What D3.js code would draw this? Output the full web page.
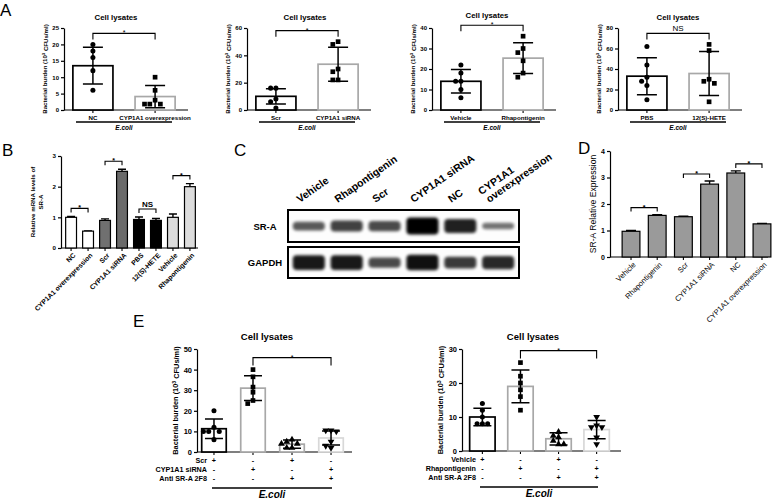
<!doctype html>
<html>
<head>
<style>
    body { margin: 0; background: #fff; }
    svg { font-family: "Liberation Sans", Arial, sans-serif; }
    .axis path, .axis line { stroke: #000; stroke-width: 1.2; }
    .axis text { font-weight: bold; fill: #000; }
</style>
<script src="https://d3js.org/d3.v7.min.js"></script>
</head>
<body>
<svg width="778" height="501"></svg>
<script>
// ---------- data ----------
// A: cell lysates, bacterial burden (10^3 CFUs/ml)
var a1Groups = ["NC", "CYP1A1 overexpression"];
var a1Mean = [13.5, 4.1];
var a1Sd = [5.6, 3.4];
var a1Points = [[20, 18, 16, 12, 6], [10, 6, 3, 1.8, 1.8, 1.8]];
var a1Ticks = [0, 5, 10, 15, 20, 25];

var a2Groups = ["Scr", "CYP1A1 siRNA"];
var a2Mean = [10, 33.5];
var a2Sd = [5.6, 12.5];
var a2Points = [[16, 16, 8, 6, 1.5], [50, 48, 30, 28, 22, 22]];
var a2Ticks = [0, 20, 40, 60];

var a3Groups = ["Vehicle", "Rhapontigenin"];
var a3Mean = [14, 25.3];
var a3Sd = [5.7, 7.5];
var a3Points = [[22, 18, 14, 14, 10, 6], [36, 30, 28, 24, 18, 16]];
var a3Ticks = [0, 10, 20, 30, 40];

var a4Groups = ["PBS", "12(S)-HETE"];
var a4Mean = [33, 35.6];
var a4Sd = [18, 21.5];
var a4Points = [[62, 44, 32, 28, 24, 10], [64, 58, 30, 28, 26, 8]];
var a4Ticks = [0, 20, 40, 60, 80];

// B: relative mRNA levels of SR-A
var bGroups = ["NC", "CYP1A1 overexpression", "Scr", "CYP1A1 siRNA", "PBS", "12(S)-HETE", "Vehicle", "Rhapontigenin"];
var bMean = [1.0, 0.55, 0.9, 2.5, 0.93, 0.9, 1.0, 2.0];
var bErr = [0.03, 0.01, 0.05, 0.07, 0.08, 0.06, 0.11, 0.1];
var bTicks = [0, 1, 2, 3];
var bSig = [[0, 1, "*"], [2, 3, "*"], [4, 5, "NS"], [6, 7, "*"]];

// C: western blot, relative band strength
var cLanes = ["Vehicle", "Rhapontigenin", "Scr", "CYP1A1 siRNA", "NC", "CYP1A1 overexpression"];
var cSrA = [0.45, 0.6, 0.55, 1.0, 0.8, 0.3];
var cGapdh = [0.85, 0.85, 0.55, 0.9, 0.65, 0.75];

// D: SR-A relative expression
var dGroups = ["Vehicle", "Rhapontigenin", "Scr", "CYP1A1 siRNA", "NC", "CYP1A1 overexpression"];
var dMean = [0.97, 1.57, 1.52, 2.75, 3.17, 1.25];
var dErr = [0.03, 0.03, 0.02, 0.12, 0.08, 0.02];
var dTicks = [0, 1, 2, 3, 4];
var dSig = [[0, 1, "*"], [2, 3, "*"], [4, 5, "*"]];

// E: blocking with anti SR-A 2F8
var e1Rows = ["Scr", "CYP1A1 siRNA", "Anti SR-A 2F8"];
var e1Signs = [["+", "-", "+", "-"], ["-", "+", "-", "+"], ["-", "-", "+", "+"]];
var e1Mean = [11.3, 31, 3.8, 6.8];
var e1Sd = [4.7, 6, 2, 3.4];
var e1Points = [[20, 12, 10, 10, 10, 6], [40, 36.5, 31.5, 29, 25, 23.5], [6, 5, 4, 4, 2, 2], [10.5, 10.5, 10, 5, 3, 2]];
var e1Ticks = [0, 10, 20, 30, 40, 50];

var e2Rows = ["Vehicle", "Rhapontigenin", "Anti SR-A 2F8"];
var e2Signs = [["+", "-", "+", "-"], ["-", "+", "-", "+"], ["-", "-", "+", "+"]];
var e2Mean = [10, 19, 3.6, 6.3];
var e2Sd = [2.6, 4.8, 1.8, 2.7];
var e2Points = [[14, 12, 10, 8, 8, 8], [26, 22, 20, 18, 16, 12], [5.6, 4.5, 4, 3, 2, 2], [10, 7.5, 7, 7, 4, 2]];
var e2Ticks = [0, 10, 20, 30];

var svg = d3.select("svg");

function panelLetter(t, x, y) {
    svg.append("text").attr("x", x).attr("y", y).attr("font-size", "17px").text(t);
}

// place dots so that they do not overlap (simple beeswarm)
function swarm(vals, cx, y, r) {
    var placed = [];
    return vals.map(function(v) {
        var py = y(v), px = cx, offs = [0, -1, 1, -2, 2, -3, 3];
        for (var k = 0; k < offs.length; k++) {
            var tx = cx + offs[k] * r * 2.2;
            if (placed.every(function(p) { return Math.hypot(p[0] - tx, p[1] - py) >= r * 2; })) { px = tx; break; }
        }
        placed.push([px, py]);
        return [px, py];
    });
}

function bracket(g, x1, x2, yb, leg, label, fs, fw) {
    g.append("path")
     .attr("d", "M" + x1 + "," + (yb + leg) + "V" + yb + "H" + x2 + "V" + (yb + leg))
     .attr("fill", "none").attr("stroke", "#000").attr("stroke-width", 1.1);
    g.append("text")
     .attr("x", (x1 + x2) / 2).attr("y", label == "*" ? yb + 2 : yb - 2.5)
     .attr("text-anchor", "middle")
     .attr("font-size", label == "*" ? "7px" : fs)
     .attr("font-weight", fw || "normal")
     .text(label);
}

var shapes = [d3.symbolCircle, d3.symbolSquare, d3.symbolTriangle, d3.symbolTriangle];
var intFmt = d3.format("d");

// dot + bar chart with SD (panels A and E)
function dotBar(o) {
    var g = svg.append("g");
    var n = o.mean.length;
    var x = d3.scaleBand().domain(d3.range(n)).range([o.x0, o.x0 + o.w]).paddingInner(o.pi).paddingOuter(o.po);
    var y = d3.scaleLinear().domain([0, o.max]).range([o.y0, o.y1]);
    var bw = x.bandwidth();
    var cx = function(i) { return x(i) + bw / 2; };

    var ax = g.append("g").attr("class", "axis")
     .attr("transform", "translate(" + o.x0 + ",0)")
     .call(d3.axisLeft(y).tickValues(o.ticks).tickFormat(intFmt).tickSize(3).tickSizeOuter(0).tickPadding(2));
    ax.selectAll("text").attr("font-size", o.tickFs);

    g.append("line")
     .attr("x1", o.x0).attr("x2", o.x0 + o.w + 4).attr("y1", o.y0).attr("y2", o.y0)
     .attr("stroke", "#000").attr("stroke-width", 1.2);
    g.selectAll(".xt").data(d3.range(n)).join("line")
     .attr("x1", cx).attr("x2", cx).attr("y1", o.y0).attr("y2", o.y0 + 3)
     .attr("stroke", "#000").attr("stroke-width", 1.1);

    g.selectAll(".bar").data(o.mean).join("rect")
     .attr("x", function(d, i) { return x(i) + 0.8; })
     .attr("y", function(d) { return y(d); })
     .attr("width", bw - 1.6)
     .attr("height", function(d) { return o.y0 - y(d); })
     .attr("fill", "#fff")
     .attr("stroke", function(d, i) { return o.strokes[i]; })
     .attr("stroke-width", 1.7);

    o.points.forEach(function(pts, i) {
        var pos = swarm(pts, cx(i), y, 2.4);
        g.selectAll(".p" + i).data(pos).join("path")
         .attr("d", d3.symbol().type(shapes[i]).size(i == 1 ? 22 : 20))
         .attr("transform", function(d) {
             return "translate(" + d[0] + "," + d[1] + ")" + (i == 3 ? " rotate(180)" : "");
         })
         .attr("fill", "#000");
    });

    o.mean.forEach(function(m, i) {
        var c = cx(i), hi = y(m + o.sd[i]), lo = y(Math.max(0, m - o.sd[i]));
        g.append("path")
         .attr("d", "M" + c + "," + hi + "V" + lo + "M" + (c - o.cap) + "," + hi + "H" + (c + o.cap) +
                    "M" + (c - o.cap) + "," + lo + "H" + (c + o.cap))
         .attr("fill", "none").attr("stroke", "#000").attr("stroke-width", 1.5);
    });

    var top = d3.max(o.points[o.sig[0]].concat(o.points[o.sig[1]]));
    bracket(g, cx(o.sig[0]), cx(o.sig[1]), y(top) - o.sigGap, o.leg, o.sig[2], o.sigFs);

    g.append("text")
     .attr("x", o.titleX).attr("y", o.titleY)
     .attr("text-anchor", "middle").attr("font-weight", "bold").attr("font-size", o.titleFs)
     .text("Cell lysates");

    var yl = g.append("text")
     .attr("transform", "translate(" + (o.x0 - o.ylOff) + "," + ((o.y0 + o.y1) / 2) + ") rotate(-90)")
     .attr("text-anchor", "middle").attr("font-weight", "bold").attr("font-size", o.ylFs);
    yl.append("tspan").text("Bacterial burden (10");
    yl.append("tspan").attr("dy", "-0.4em").attr("font-size", "0.7em").text("3");
    yl.append("tspan").attr("dy", "0.4em").text(" CFUs/ml)");

    if (o.groups) {
        g.selectAll(".xl").data(o.groups).join("text")
         .attr("x", function(d, i) { return cx(i); })
         .attr("y", o.y0 + 9.5)
         .attr("text-anchor", "middle").attr("font-weight", "bold").attr("font-size", o.xFs)
         .text(function(d) { return d; });
    } else {
        o.rows.forEach(function(r, j) {
            var ry = o.y0 + o.rowY[j];
            g.append("text").attr("x", o.rowX).attr("y", ry)
             .attr("text-anchor", "end").attr("font-weight", "bold").attr("font-size", o.xFs).text(r);
            g.selectAll(".s" + j).data(o.signs[j]).join("text")
             .attr("x", function(d, i) { return cx(i); }).attr("y", ry)
             .attr("text-anchor", "middle").attr("font-weight", "bold").attr("font-size", o.xFs)
             .text(function(d) { return d; });
        });
    }

    g.append("line")
     .attr("x1", o.x0 + o.ul[0]).attr("x2", o.x0 + o.ul[1]).attr("y1", o.ulY).attr("y2", o.ulY)
     .attr("stroke", "#000").attr("stroke-width", 1.6);
    g.append("text")
     .attr("x", o.x0 + (o.ul[0] + o.ul[1]) / 2).attr("y", o.ulY + o.ecY)
     .attr("text-anchor", "middle").attr("font-weight", "bold").attr("font-style", "italic")
     .attr("font-size", o.ecFs).text("E.coli");
}

// column chart with upper error bar (panels B and D)
function columns(o) {
    var g = svg.append("g");
    var n = o.mean.length;
    var x = d3.scaleBand().domain(d3.range(n)).range(o.range).paddingInner(o.pi).paddingOuter(o.po);
    var y = d3.scaleLinear().domain([0, o.max]).range([o.y0, o.y1]);
    var bw = x.bandwidth();
    var cx = function(i) { return x(i) + bw / 2; };

    var ax = g.append("g").attr("class", "axis")
     .attr("transform", "translate(" + o.x0 + ",0)")
     .call(d3.axisLeft(y).tickValues(o.ticks).tickFormat(intFmt).tickSize(3).tickSizeOuter(0).tickPadding(2));
    ax.selectAll("text").attr("font-size", o.tickFs);

    g.append("line")
     .attr("x1", o.x0).attr("x2", o.xEnd).attr("y1", o.y0).attr("y2", o.y0)
     .attr("stroke", "#000").attr("stroke-width", 1.2);
    g.selectAll(".xt").data(d3.range(n)).join("line")
     .attr("x1", cx).attr("x2", cx).attr("y1", o.y0).attr("y2", o.y0 + 3)
     .attr("stroke", "#000").attr("stroke-width", 1.1);

    o.mean.forEach(function(m, i) {
        var c = cx(i), hi = y(m + o.err[i]);
        g.append("path")
         .attr("d", "M" + c + "," + y(m) + "V" + hi + "M" + (c - o.cap) + "," + hi + "H" + (c + o.cap))
         .attr("fill", "none").attr("stroke", "#000").attr("stroke-width", 1.4);
    });

    g.selectAll(".bar").data(o.mean).join("rect")
     .attr("x", function(d, i) { return x(i) + 0.6; })
     .attr("y", function(d) { return y(d); })
     .attr("width", bw - 1.2)
     .attr("height", function(d) { return o.y0 - y(d); })
     .attr("fill", function(d, i) { return o.fill(i); })
     .attr("stroke", "#000").attr("stroke-width", 1.2);

    o.sig.forEach(function(s) {
        var top = Math.max(o.mean[s[0]] + o.err[s[0]], o.mean[s[1]] + o.err[s[1]]);
        bracket(g, cx(s[0]), cx(s[1]), y(top) - o.sigGap, 4, s[2], "8px", "bold");
    });

    g.selectAll(".xl").data(o.groups).join("text")
     .attr("transform", function(d, i) { return "translate(" + (cx(i) + 2) + "," + (o.y0 + 5) + ") rotate(-45)"; })
     .attr("text-anchor", "end").attr("font-weight", o.xWeight).attr("font-size", o.xFs)
     .attr("dy", "0.6em")
     .text(function(d) { return d; });
    return g;
}

// ---------- panel A ----------
panelLetter("A", 0, 16);
var aCommon = { w: 120, pi: 0.33, po: 0.13, y0: 110, y1: 28, strokes: ["#000", "#a8a8a8"], cap: 10,
    tickFs: "6px", titleY: 20, titleFs: "7.8px", ylOff: 17, ylFs: "6.1px", xFs: "6.2px",
    ul: [12, 108], ulY: 122, ecY: 7.5, ecFs: "6.5px", sigGap: 11, leg: 6, sigFs: "8px" };
[
    { x0: 64, max: 25, ticks: a1Ticks, groups: a1Groups, mean: a1Mean, sd: a1Sd, points: a1Points, sig: [0, 1, "*"], titleX: 116 },
    { x0: 247, max: 60, ticks: a2Ticks, groups: a2Groups, mean: a2Mean, sd: a2Sd, points: a2Points, sig: [0, 1, "*"], titleX: 305 },
    { x0: 432, max: 40, ticks: a3Ticks, groups: a3Groups, mean: a3Mean, sd: a3Sd, points: a3Points, sig: [0, 1, "*"], titleX: 487, titleY: 17.5 },
    { x0: 618, max: 80, ticks: a4Ticks, groups: a4Groups, mean: a4Mean, sd: a4Sd, points: a4Points, sig: [0, 1, "NS"], titleX: 678 }
].forEach(function(c) { dotBar(Object.assign({}, aCommon, c)); });

// ---------- panel B ----------
panelLetter("B", 2, 156);
var bFill = ["#fff", "#fff", "#707070", "#6a6a6a", "#000", "#000", "#dcdcdc", "#dcdcdc"];
columns({ x0: 61, xEnd: 198, range: [62, 199], pi: 0.29, po: 0.18, y0: 248, y1: 156, max: 3,
    ticks: bTicks, mean: bMean, err: bErr, groups: bGroups, sig: bSig, cap: 4,
    fill: function(i) { return bFill[i]; }, tickFs: "6.2px", xFs: "6.8px", xWeight: "bold", sigGap: 8 });
var bl = svg.append("text")
    .attr("transform", "translate(36,202) rotate(-90)")
    .attr("text-anchor", "middle").attr("font-weight", "bold").attr("font-size", "6.2px");
bl.append("tspan").attr("x", 0).attr("dy", "-0.2em").text("Relative mRNA levels of");
bl.append("tspan").attr("x", 0).attr("dy", "1.25em").text("SR-A");

// ---------- panel C ----------
panelLetter("C", 234, 156);
var defs = svg.append("defs");
defs.append("filter").attr("id", "blur").attr("x", "-30%").attr("y", "-80%").attr("width", "160%").attr("height", "260%")
    .append("feGaussianBlur").attr("stdDeviation", 1.6);
var lane = d3.scaleBand().domain(d3.range(cLanes.length)).range([288, 519]).padding(0.1);
var bandH = d3.scaleLinear().domain([0, 1]).range([2, 17]);
var bandOp = d3.scaleLinear().domain([0, 1]).range([0.35, 1]);
var blots = [{ name: "SR-A", vals: cSrA, y0: 210, y1: 242 }, { name: "GAPDH", vals: cGapdh, y0: 247, y1: 278 }];
blots.forEach(function(b) {
    var mid = (b.y0 + b.y1) / 2;
    var gb = svg.append("g");
    gb.append("rect").attr("x", 288).attr("y", b.y0).attr("width", 231).attr("height", b.y1 - b.y0)
      .attr("fill", "#fdfdfd").attr("stroke", "#000").attr("stroke-width", 2);
    gb.selectAll(".band").data(b.vals).join("rect")
      .attr("x", function(d, i) { return lane(i) + 1; })
      .attr("y", function(d) { return mid - bandH(d) / 2; })
      .attr("width", lane.bandwidth() - 2)
      .attr("height", function(d) { return bandH(d); })
      .attr("rx", 4)
      .attr("fill", "#000")
      .attr("opacity", function(d) { return bandOp(d); })
      .attr("filter", "url(#blur)");
    svg.append("text").attr("x", 265).attr("y", mid + 3.5).attr("text-anchor", "middle")
      .attr("font-weight", "bold").attr("font-size", "9.5px").text(b.name);
});
cLanes.forEach(function(name, i) {
    var lx = lane(i) + lane.bandwidth() / 2 - 9;
    var t = svg.append("text")
      .attr("transform", "translate(" + lx + ",203) rotate(-35)")
      .attr("font-weight", "bold").attr("font-size", "10.5px");
    var words = name == "CYP1A1 overexpression" ? ["CYP1A1", "overexpression"] : [name];
    if (words.length == 2) {
        t.append("tspan").attr("x", -2).attr("y", -11).text(words[0]);
        t.append("tspan").attr("x", 0).attr("y", 0).text(words[1]);
    } else {
        t.text(name);
    }
});

// ---------- panel D ----------
panelLetter("D", 578, 154);
columns({ x0: 610, xEnd: 768, range: [610, 783], pi: 0.275, po: 0.44, y0: 257, y1: 151, max: 4,
    ticks: dTicks, mean: dMean, err: dErr, groups: dGroups, sig: dSig, cap: 5,
    fill: function() { return "#9a9a9a"; }, tickFs: "7px", xFs: "7.5px", xWeight: "normal", sigGap: 7 });
svg.append("text")
    .attr("transform", "translate(596,204) rotate(-90)")
    .attr("text-anchor", "middle").attr("font-size", "8.6px")
    .text("SR-A Relative Expression");

// ---------- panel E ----------
panelLetter("E", 133, 327);
var eCommon = { strokes: ["#000", "#a8a8a8", "#a8a8a8", "#d8d8d8"], cap: 9, tickFs: "7.5px", titleY: 340,
    titleFs: "9.5px", ylOff: 19, ylFs: "7.4px", xFs: "7.2px", rowY: [11, 20, 29], ecY: 10, ecFs: "10px",
    sigGap: 12, leg: 8, sigFs: "8px", sig: [1, 3, "*"] };
dotBar(Object.assign({}, eCommon, { x0: 197, w: 151, pi: 0.33, po: 0.1, y0: 452, y1: 349, max: 50,
    ticks: e1Ticks, rows: e1Rows, signs: e1Signs, mean: e1Mean, sd: e1Sd, points: e1Points,
    rowX: 207, titleX: 267, ul: [15, 135], ulY: 488 }));
dotBar(Object.assign({}, eCommon, { x0: 462, w: 155, pi: 0.29, po: 0.18, y0: 451, y1: 349, max: 30,
    ticks: e2Ticks, rows: e2Rows, signs: e2Signs, mean: e2Mean, sd: e2Sd, points: e2Points,
    rowX: 476, titleX: 533, ul: [18, 136], ulY: 487 }));
</script>
</body>
</html>
